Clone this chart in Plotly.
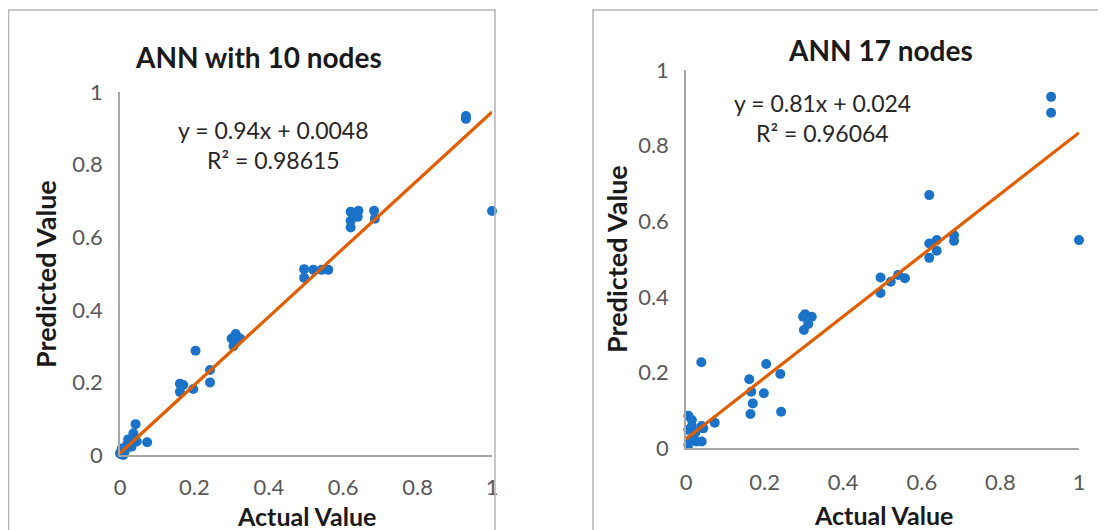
import plotly.graph_objects as go

# ---- data ----
actual_10 = [1.0, 0.930, 0.930, 0.620, 0.641, 0.639, 0.620, 0.620, 0.683, 0.685,
             0.495, 0.495, 0.520, 0.542, 0.560, 0.300, 0.311, 0.318, 0.305, 0.323,
             0.203, 0.242, 0.242, 0.161, 0.170, 0.161, 0.197, 0.042, 0.036, 0.022,
             0.031, 0.073, 0.005, 0.000, 0.009, 0.045, 0.013, 0.004, 0.002, 0.012, 0.020]
pred_10 = [0.672, 0.934, 0.926, 0.670, 0.673, 0.656, 0.645, 0.627, 0.673, 0.651,
           0.512, 0.488, 0.510, 0.510, 0.510, 0.321, 0.333, 0.319, 0.300, 0.321,
           0.287, 0.234, 0.200, 0.196, 0.193, 0.174, 0.182, 0.085, 0.060, 0.043,
           0.023, 0.035, 0.018, 0.005, 0.000, 0.037, 0.010, 0.012, 0.002, 0.015, 0.030]

actual_17 = [0.929, 0.929, 1.0, 0.619, 0.619, 0.638, 0.638, 0.619, 0.682, 0.682,
             0.495, 0.495, 0.521, 0.540, 0.557, 0.303, 0.298, 0.320, 0.311, 0.300,
             0.039, 0.204, 0.240, 0.161, 0.166, 0.198, 0.170, 0.164, 0.242, 0.073,
             0.006, 0.015, 0.006, 0.040, 0.044, 0.010, 0.027, 0.040, 0.006, 0.024, 0.015]
pred_17 = [0.929, 0.887, 0.550, 0.669, 0.541, 0.550, 0.522, 0.503, 0.563, 0.548,
           0.451, 0.410, 0.440, 0.458, 0.449, 0.354, 0.347, 0.347, 0.328, 0.312,
           0.227, 0.222, 0.196, 0.182, 0.149, 0.145, 0.118, 0.090, 0.096, 0.067,
           0.085, 0.074, 0.048, 0.058, 0.052, 0.021, 0.017, 0.017, 0.008, 0.041, 0.058]

trend_10 = {"slope": 0.94, "intercept": 0.0048}
trend_17 = {"slope": 0.81, "intercept": 0.024}
trend_x = [0.0, 1.0]

titles = ["ANN with 10 nodes", "ANN 17 nodes"]
eq_10 = ["y = 0.94x + 0.0048", "R² = 0.98615"]
eq_17 = ["y = 0.81x + 0.024", "R² = 0.96064"]
ticks = [0, 0.2, 0.4, 0.6, 0.8, 1]
tick_text = ["0", "0.2", "0.4", "0.6", "0.8", "1"]

# page body has an 8px default margin: figure sits at (8, 8) in the window
OFF = 8
W, H = 1106 - OFF, 530 - OFF
FONT = "Lato"
BLUE = "#1a73c8"
ORANGE = "#e35d00"
AX = "#a6a6a6"
TICKC = "#595959"


def px(x):
    return (x - OFF) / W


def py(y):
    return 1 - (y - OFF) / H


fig = go.Figure()

for (xs, ys, tr, xa, ya) in [
    (actual_10, pred_10, trend_10, "x", "y"),
    (actual_17, pred_17, trend_17, "x2", "y2"),
]:
    fig.add_trace(go.Scatter(x=xs, y=ys, mode="markers", xaxis=xa, yaxis=ya,
                             marker=dict(color=BLUE, size=10, line=dict(width=0)),
                             cliponaxis=False, showlegend=False))
    fig.add_trace(go.Scatter(x=trend_x, y=[tr["slope"] * v + tr["intercept"] for v in trend_x],
                             mode="lines", xaxis=xa, yaxis=ya,
                             line=dict(color=ORANGE, width=3.2),
                             cliponaxis=False, showlegend=False))

axis_common = dict(range=[0, 1], tickvals=ticks, ticktext=tick_text, showgrid=False,
                   zeroline=False, showline=True, linecolor=AX, linewidth=1.5,
                   ticks="", tickfont=dict(family=FONT, size=22, color=TICKC),
                   fixedrange=True, automargin=False)

fig.update_layout(
    width=W, height=H, margin=dict(l=0, r=0, t=0, b=0, pad=0, autoexpand=False),
    paper_bgcolor="white", plot_bgcolor="white",
    xaxis=dict(domain=[px(120), px(492)], anchor="y", ticklabelstandoff=12, **axis_common),
    yaxis=dict(domain=[py(455), py(92)], anchor="x", ticklabelstandoff=11, **axis_common),
    xaxis2=dict(domain=[px(686), px(1079)], anchor="y2", ticklabelstandoff=14, **axis_common),
    yaxis2=dict(domain=[py(448), py(70)], anchor="x2", ticklabelstandoff=11, **axis_common),
)

# chart borders
fig.add_shape(type="rect", xref="paper", yref="paper", x0=0.0005, x1=px(495),
              y0=-0.01, y1=py(10), line=dict(color="#b4b4b4", width=1.5))
fig.add_shape(type="rect", xref="paper", yref="paper", x0=px(593), x1=1.01,
              y0=-0.01, y1=py(10), line=dict(color="#b4b4b4", width=1.5))

ann = []
# titles
for t, cx, cy in [(titles[0], 258, 57), (titles[1], 880, 50)]:
    ann.append(dict(x=px(cx), y=py(cy), text="<b>%s</b>" % t, xref="paper", yref="paper",
                    showarrow=False, font=dict(family=FONT, size=28, color="#1a1a1a"),
                    xanchor="center", yanchor="middle"))

# axis titles
for cx, cy in [(306, 516), (883, 515)]:
    ann.append(dict(x=px(cx), y=py(cy), text="<b>Actual Value</b>", xref="paper", yref="paper",
                    showarrow=False, font=dict(family=FONT, size=25, color="#1a1a1a"),
                    xanchor="center", yanchor="middle", borderpad=0))
for cx, cy in [(45, 274), (616, 259)]:
    ann.append(dict(x=px(cx), y=py(cy), text="<b>Predicted Value</b>", xref="paper", yref="paper",
                    showarrow=False, textangle=-90,
                    font=dict(family=FONT, size=27, color="#1a1a1a"),
                    xanchor="center", yanchor="middle"))

# equations
for lines, cx, cy in [(eq_10, 273, 130), (eq_17, 822, 103)]:
    for i, t in enumerate(lines):
        ann.append(dict(x=px(cx), y=py(cy + 30 * i), text=t, xref="paper", yref="paper",
                        showarrow=False, font=dict(family=FONT, size=23, color="#262626"),
                        xanchor="center", yanchor="middle"))

fig.update_layout(annotations=ann)
fig.write_html("out.html")
